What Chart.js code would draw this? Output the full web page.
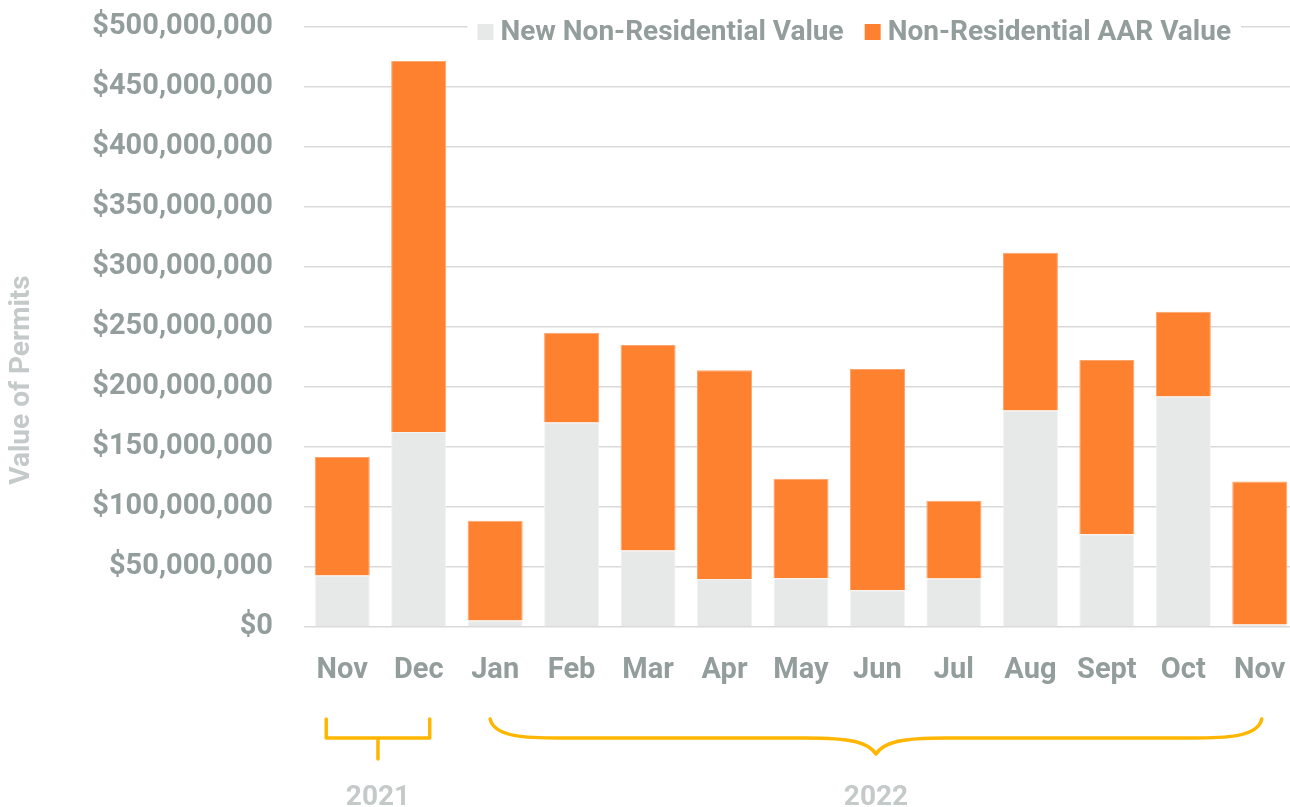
<!DOCTYPE html>
<html>
<head>
<meta charset="utf-8">
<script src="https://cdn.jsdelivr.net/npm/chart.js@4"></script>
<style>
    html, body { margin: 0; padding: 0; background: #fff; overflow: hidden; }
    #wrap { width: 1298px; height: 807px; position: relative; }
</style>
</head>
<body>
<div id="wrap"><canvas id="permitsChart"></canvas></div>
<script>
// months shown on the x axis (Nov 2021 .. Nov 2022)
const months = ['Nov', 'Dec', 'Jan', 'Feb', 'Mar', 'Apr', 'May', 'Jun', 'Jul', 'Aug', 'Sept', 'Oct', 'Nov'];
// values in dollars
const newNonResidential = [42.9e6, 162.4e6, 5.4e6, 170.4e6, 63.7e6, 40.1e6, 40.6e6, 30.6e6, 40.4e6, 180.4e6, 77.2e6, 192.1e6, 2.1e6];
const aarNonResidential = [98.7e6, 309.3e6, 83.2e6, 74.8e6, 171.4e6, 173.9e6, 83.0e6, 184.5e6, 64.9e6, 131.5e6, 145.4e6, 70.7e6, 119.2e6];
const seriesNames = ['New Non-Residential Value', 'Non-Residential AAR Value'];
const axisTitle = 'Value of Permits';
// year groups under the axis: [label, first index, last index]
const yearGroups = [['2021', 0, 1], ['2022', 2, 12]];

const TEXT = '#939d9c';
const LIGHT = '#c4cac9';
const BRACE = '#ffb600';
const FONT = 'Roboto';

// legend drawn on top of the plot, covering the top grid line
const topLegend = {
    id: 'topLegend',
    afterDraw(chart) {
        const c = chart.ctx;
        c.save();
        c.font = 'bold 28px ' + FONT;
        c.textBaseline = 'middle';
        const right = 1231, cy = 32, box = 16, gap = 7, between = 21;
        const w = seriesNames.map(n => c.measureText(n).width);
        const total = w[0] + w[1] + 2 * (box + gap) + between;
        let x = right - total;
        c.fillStyle = '#fff';
        c.fillRect(x - 10, 14, total + 20, 36);
        chart.data.datasets.forEach((ds, i) => {
            c.fillStyle = ds.backgroundColor;
            c.fillRect(x, cy - box / 2, box, box);
            x += box + gap;
            c.fillStyle = TEXT;
            c.fillText(seriesNames[i], x, cy + 1);
            x += w[i] + between;
        });

        // vertical axis title, sits a bit below the middle of the plot
        c.translate(22, 380);
        c.rotate(-Math.PI / 2);
        c.font = 'bold 28px ' + FONT;
        c.fillStyle = LIGHT;
        c.textAlign = 'center';
        c.fillText(axisTitle, 0, 0);
        c.restore();
    }
};

// curly / square brackets with the year under the month labels
const yearBraces = {
    id: 'yearBraces',
    afterDraw(chart) {
        const c = chart.ctx;
        const xs = chart.scales.x;
        const top = 719, mid = 738;
        c.save();
        c.strokeStyle = BRACE;
        c.lineWidth = 3.5;
        c.lineCap = 'round';
        c.lineJoin = 'round';

        // 2021: square bracket
        let g = yearGroups[0];
        let x0 = xs.getPixelForValue(g[1]) - 16;
        let x1 = xs.getPixelForValue(g[2]) + 11;
        let xm = (x0 + x1) / 2;
        c.beginPath();
        c.moveTo(x0, top);
        c.lineTo(x0, mid);
        c.lineTo(x1, mid);
        c.lineTo(x1, top);
        c.moveTo(xm, mid);
        c.lineTo(xm, 759);
        c.stroke();
        drawYear(c, g[0], xm);

        // 2022: curly brace
        g = yearGroups[1];
        x0 = xs.getPixelForValue(g[1]) - 5;
        x1 = xs.getPixelForValue(g[2]) + 2;
        xm = (x0 + x1) / 2;
        const tip = 754;
        c.beginPath();
        c.moveTo(x0, top);
        c.bezierCurveTo(x0 + 4, mid, x0 + 40, mid, x0 + 70, mid);
        c.lineTo(xm - 70, mid);
        c.bezierCurveTo(xm - 25, mid, xm - 8, mid + 4, xm, tip);
        c.bezierCurveTo(xm + 8, mid + 4, xm + 25, mid, xm + 70, mid);
        c.lineTo(x1 - 70, mid);
        c.bezierCurveTo(x1 - 40, mid, x1 - 4, mid, x1, top);
        c.stroke();
        drawYear(c, g[0], xm);
        c.restore();
    }
};

function drawYear(c, label, x) {
    c.save();
    c.font = 'bold 28px ' + FONT;
    c.fillStyle = LIGHT;
    c.textAlign = 'center';
    c.textBaseline = 'alphabetic';
    c.fillText(label, x, 805);
    c.restore();
}

const ctx = document.getElementById('permitsChart');
new Chart(ctx, {
    type: 'bar',
    data: {
        labels: months,
        datasets: [{
            label: seriesNames[0],
            data: newNonResidential,
            backgroundColor: '#e7e9e8',
            borderColor: '#f2f3f3',
            borderWidth: 1,
            categoryPercentage: 1,
            barPercentage: 0.72
        }, {
            label: seriesNames[1],
            data: aarNonResidential,
            backgroundColor: '#fe8130',
            borderColor: '#ffa46a',
            borderWidth: 1,
            categoryPercentage: 1,
            barPercentage: 0.72
        }]
    },
    options: {
        responsive: true,
        maintainAspectRatio: false,
        animation: false,
        layout: { padding: { top: 27, left: 0, right: 0, bottom: 0 } },
        plugins: {
            legend: { display: false },
            tooltip: { enabled: false }
        },
        scales: {
            x: {
                stacked: true,
                grid: { display: false, drawTicks: false },
                border: { display: false },
                ticks: {
                    color: TEXT,
                    padding: 26,
                    maxRotation: 0,
                    autoSkip: false,
                    font: { family: FONT, size: 29, weight: 'bold' }
                },
                afterFit(scale) {
                    scale.height = 180;
                    scale.paddingLeft = 0;
                    scale.paddingRight = 0;
                }
            },
            y: {
                stacked: true,
                min: 0,
                max: 500000000,
                grid: { color: '#d9d9d9', lineWidth: 1.5, drawTicks: false },
                border: { display: false },
                ticks: {
                    stepSize: 50000000,
                    color: TEXT,
                    padding: 31,
                    font: { family: FONT, size: 29, weight: 'bold' },
                    callback: v => '$' + v.toLocaleString('en-US')
                },
                afterFit(scale) {
                    scale.width = 304;
                    scale.paddingTop = 0;
                    scale.paddingBottom = 0;
                }
            }
        }
    },
    plugins: [topLegend, yearBraces]
});
</script>
</body>
</html>
